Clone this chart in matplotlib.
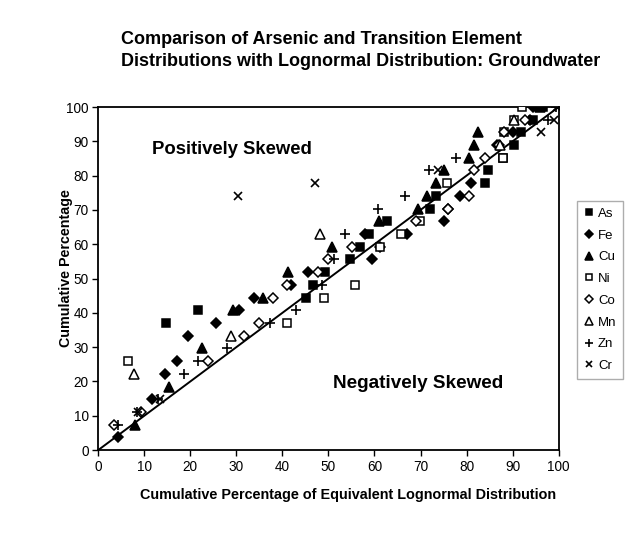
import numpy as np
import matplotlib.pyplot as plt

plt.rcParams['font.family'] = ['Liberation Sans', 'DejaVu Sans']

# =============================================================================
# Dados (x = % lognormal equivalente, y = % acumulada)
# =============================================================================

as_x = [14.6, 21.7, 45.2, 46.6, 49.2, 54.6, 56.8, 58.8, 62.8, 72.0, 73.3, 83.9, 84.7, 87.9, 90.4, 91.9, 94.4, 96.7]
as_y = [37.0, 40.7, 44.4, 48.1, 51.9, 55.6, 59.3, 63.0, 66.7, 70.4, 74.1, 77.8, 81.5, 85.2, 88.9, 92.6, 96.3, 100.0]

fe_x = [4.2, 11.7, 14.5, 17.2, 19.5, 25.5, 30.6, 33.8, 41.8, 45.6, 59.5, 61.3, 57.9, 67.0, 75.0, 75.9, 78.5, 81.0, 86.6, 90.0, 93.8, 94.5]
fe_y = [3.7, 14.8, 22.2, 25.9, 33.3, 37.0, 40.7, 44.4, 48.1, 51.9, 55.6, 59.3, 63.0, 63.0, 66.7, 70.4, 74.1, 77.8, 88.9, 92.6, 96.3, 100.0]

cu_x = [8.0, 15.3, 22.6, 29.3, 35.8, 41.3, 50.8, 61.0, 69.4, 71.3, 73.3, 75.0, 80.5, 81.7, 82.4, 96.0]
cu_y = [7.4, 18.5, 29.6, 40.7, 44.4, 51.9, 59.3, 66.7, 70.4, 74.1, 77.8, 81.5, 85.2, 88.9, 92.6, 100.0]

ni_x = [6.5, 40.9, 49.0, 55.7, 61.3, 65.8, 69.9, 75.7, 88.0, 88.2, 90.4, 92.1]
ni_y = [25.9, 37.0, 44.4, 48.1, 59.3, 63.0, 66.7, 77.8, 85.2, 92.6, 96.3, 100.0]

co_x = [3.5, 9.2, 23.9, 31.6, 34.9, 38.0, 40.9, 47.7, 49.8, 55.1, 69.1, 75.9, 80.6, 81.7, 84.0, 87.1, 88.2, 92.6]
co_y = [7.4, 11.1, 25.9, 33.3, 37.0, 44.4, 48.1, 51.9, 55.6, 59.3, 66.7, 70.4, 74.1, 81.5, 85.2, 88.9, 92.6, 96.3]

mn_x = [7.7, 28.8, 48.1, 87.3, 90.4]
mn_y = [22.2, 33.3, 63.0, 88.9, 96.3]

zn_x = [4.3, 8.3, 13.0, 18.7, 21.7, 28.0, 37.2, 42.9, 48.5, 51.3, 53.7, 60.7, 66.6, 71.9, 77.7, 97.6, 99.5]
zn_y = [7.4, 11.1, 14.8, 22.2, 25.9, 29.6, 37.0, 40.7, 48.1, 55.6, 63.0, 70.4, 74.1, 81.5, 85.2, 96.3, 100.0]

cr_x = [8.6, 13.4, 30.3, 47.0, 73.8, 96.2, 99.1, 99.6]
cr_y = [11.1, 14.8, 74.1, 77.8, 81.5, 92.6, 96.3, 100.0]

linha_ref = [0, 100]

# =============================================================================
# Grafico
# =============================================================================

fig = plt.figure(figsize=(6.31, 5.33), dpi=100)
ax = fig.add_axes([0.1558, 0.1557, 0.7295, 0.6435])

ax.plot(linha_ref, linha_ref, color='black', lw=1.4, zorder=1)

ms = 6
series = [
    (as_x, as_y, 's', 'black', 'As', ms),
    (fe_x, fe_y, 'D', 'black', 'Fe', ms - 0.5),
    (cu_x, cu_y, '^', 'black', 'Cu', ms + 0.5),
    (ni_x, ni_y, 's', 'white', 'Ni', ms),
    (co_x, co_y, 'D', 'white', 'Co', ms - 0.5),
    (mn_x, mn_y, '^', 'white', 'Mn', ms + 0.5),
]
for x, y, m, fc, lab, s in series:
    ax.plot(x, y, linestyle='none', marker=m, markersize=s, markerfacecolor=fc,
            markeredgecolor='black', markeredgewidth=1.1, label=lab, zorder=3)
ax.plot(zn_x, zn_y, linestyle='none', marker='+', markersize=7, color='black',
        markeredgewidth=1.2, label='Zn', zorder=3)
ax.plot(cr_x, cr_y, linestyle='none', marker='x', markersize=6, color='black',
        markeredgewidth=1.2, label='Cr', zorder=3)

ax.set_xlim(0, 100)
ax.set_ylim(0, 100)
ax.set_xticks(np.arange(0, 101, 10))
ax.set_yticks(np.arange(0, 101, 10))
ax.tick_params(direction='out', length=4, width=1, labelsize=9.8, colors='black', pad=3)
for sp in ax.spines.values():
    sp.set_linewidth(1.3)

ax.text(11.6, 87.5, 'Positively Skewed', fontsize=13.3, fontweight='bold', va='center')
ax.text(50.9, 19.5, 'Negatively Skewed', fontsize=13.6, fontweight='bold', va='center')

fig.text(121 / 631, 1 - 31 / 533,
         'Comparison of Arsenic and Transition Element\nDistributions with Lognormal Distribution: Groundwater',
         fontsize=13, fontweight='bold', va='top', ha='left', linespacing=1.42)
fig.text(66 / 631, 1 - 268 / 533, 'Cumulative Percentage', rotation=90,
         fontsize=10.3, fontweight='bold', va='center', ha='center')
fig.text(348 / 631, 1 - 495 / 533, 'Cumulative Percentage of Equivalent Lognormal Distribution',
         fontsize=10.4, fontweight='bold', va='center', ha='center')

leg = ax.legend(loc='upper left', bbox_to_anchor=(577 / 631, 1 - 201 / 533),
                bbox_transform=fig.transFigure, frameon=True, fancybox=False,
                fontsize=9.5, handlelength=0.8, handletextpad=0.3,
                labelspacing=0.72, borderpad=0.5, borderaxespad=0, markerscale=0.8)
leg.get_frame().set_edgecolor('#999999')
leg.get_frame().set_linewidth(1.0)

fig.savefig('out.png', dpi=100)
